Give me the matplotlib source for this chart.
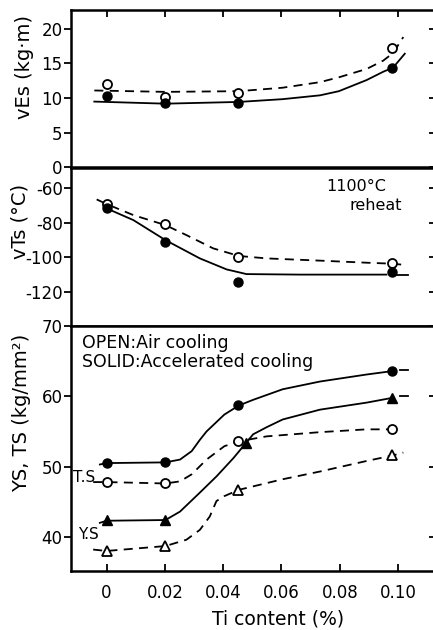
import matplotlib
matplotlib.use("Agg")
import matplotlib.pyplot as plt
from matplotlib.lines import TICKLEFT

# puntos medidos (contenido de Ti, %)
ti = [0, 0.02, 0.045, 0.098]
ti_ys_acc = [0, 0.02, 0.0477, 0.098]

# vEs (kg.m)
ves_air = [12.1, 10.1, 10.8, 17.2]
ves_acc = [10.3, 9.3, 9.3, 14.4]
ves_air_cx = [-0.0042, 0.0202, 0.0454, 0.0604, 0.0732, 0.0797, 0.0892, 0.0949, 0.0983, 0.1018]
ves_air_cy = [11.1, 10.9, 11.0, 11.5, 12.3, 13.0, 14.2, 15.4, 16.5, 18.8]
ves_acc_cx = [-0.0042, 0.0202, 0.0454, 0.0604, 0.0732, 0.0797, 0.0892, 0.0949, 0.0983, 0.1023]
ves_acc_cy = [9.5, 9.2, 9.45, 9.85, 10.4, 11.0, 12.6, 13.8, 14.4, 16.4]

# vTs (C)
vts_air = [-69.1, -80.7, -99.7, -103.5]
vts_acc = [-71.6, -91.0, -114.1, -108.7]
vts_air_cx = [-0.0034, 0.0, 0.0092, 0.0202, 0.0274, 0.0366, 0.0454, 0.0549, 0.0732, 0.0892, 0.0983, 0.1029]
vts_air_cy = [-66.4, -69.1, -75.5, -81.3, -87.1, -94.8, -99.2, -100.6, -101.9, -103.1, -103.7, -104.5]
vts_acc_cx = [0.0, 0.0092, 0.0202, 0.032, 0.0412, 0.048, 0.0663, 0.0960]
vts_acc_cy = [-71.6, -78.4, -90.0, -100.6, -107.0, -109.7, -110.0, -110.0]
vts_acc_ext_x = [0.0994, 0.1034]
vts_acc_ext_y = [-110.3, -110.3]

# YS, TS (kg/mm2)
ts_acc = [50.5, 50.6, 58.7, 63.6]
ts_air = [47.8, 47.6, 53.6, 55.3]
ys_acc = [42.4, 42.4, 53.3, 59.8]
ys_air = [38.0, 38.7, 46.7, 51.6]

ts_acc_cx = [-0.0023, 0.0, 0.0202, 0.0252, 0.0292, 0.032, 0.0343, 0.0404, 0.0454, 0.0503, 0.0604, 0.0732, 0.0892, 0.0983]
ts_acc_cy = [50.3, 50.5, 50.6, 51.0, 52.2, 53.8, 55.0, 57.4, 58.7, 59.5, 61.0, 62.1, 63.1, 63.6]
ts_acc_ext_x = [0.1006, 0.1034]
ts_acc_ext_y = [63.7, 63.7]

ts_air_cx = [-0.0046, 0.0, 0.0202, 0.0252, 0.0292, 0.0343, 0.0404, 0.0454, 0.0549, 0.0732, 0.0892, 0.0983, 0.1006]
ts_air_cy = [47.8, 47.8, 47.6, 47.9, 48.9, 51.0, 52.9, 53.6, 54.3, 54.9, 55.3, 55.3, 55.3]

ys_acc_cx = [-0.0023, 0.0, 0.0202, 0.0252, 0.032, 0.0377, 0.0435, 0.0477, 0.0503, 0.0549, 0.0604, 0.0732, 0.0892, 0.0983]
ys_acc_cy = [42.0, 42.3, 42.4, 43.6, 46.3, 48.6, 51.2, 53.3, 54.6, 55.6, 56.7, 58.1, 59.1, 59.8]
ys_acc_ext_x = [0.1006, 0.1034]
ys_acc_ext_y = [60.0, 60.0]

ys_air_cx = [-0.0046, 0.0, 0.0202, 0.0274, 0.032, 0.0354, 0.0377, 0.0404, 0.0454, 0.0604, 0.0732, 0.0892, 0.0983, 0.1018]
ys_air_cy = [38.2, 38.0, 38.7, 39.6, 41.0, 42.9, 45.1, 45.8, 46.7, 48.2, 49.3, 50.8, 51.6, 52.0]

xticks = [0, 0.02, 0.04, 0.06, 0.08, 0.10]
xticklabels = ['0', '0.02', '0.04', '0.06', '0.08', '0.10']

plt.rcParams['font.family'] = 'DejaVu Sans'
W, H = 433, 630
fig = plt.figure(figsize=(W / 100, H / 100), dpi=100)

X0, X1 = 71, 436  # el eje derecho queda justo fuera de la imagen

def caja(top, bottom):
    # posicion en pixeles -> fraccion de figura
    return [X0 / W, 1 - bottom / H, (X1 - X0) / W, (bottom - top) / H]

ax1 = fig.add_axes(caja(10, 167.5))
ax2 = fig.add_axes(caja(167.5, 326))
ax3 = fig.add_axes(caja(326, 571))

dash = (0, (5, 3.5))
lw = 1.3
ms = 6.5
xmin = -0.0122
xmax = xmin + (X1 - X0) / 58.3 * 0.02

for ax in (ax1, ax2, ax3):
    ax.set_xlim(xmin, xmax)
    ax.set_xticks(xticks)
    for s in ax.spines.values():
        s.set_linewidth(1.8)
    ax.spines['right'].set_visible(False)

def ejes_y(ax):
    # ticks del eje derecho a mano, apuntando hacia dentro desde el borde
    ax.tick_params(axis='y', which='major', left=True, right=True, length=5, width=1.3, labelsize=12, pad=1)
    for t in ax.yaxis.get_major_ticks():
        t.tick1line.set_marker(TICKLEFT)
        t.tick2line.set_marker(TICKLEFT)

# panel superior: vEs
ax1.plot(ves_air_cx, ves_air_cy, 'k', ls=dash, lw=lw)
ax1.plot(ves_acc_cx, ves_acc_cy, 'k-', lw=lw)
ax1.plot(ti, ves_air, 'o', mfc='white', mec='k', mew=1.3, ms=ms)
ax1.plot(ti, ves_acc, 'o', color='k', ms=ms)
ax1.set_ylim(0, 22.7)
ax1.set_yticks([0, 5, 10, 15, 20])
ax1.tick_params(axis='x', top=True, bottom=False, labelbottom=False, direction='in', length=5, width=1.3)

# panel medio: vTs
ax2.plot(vts_air_cx, vts_air_cy, 'k', ls=dash, lw=lw)
ax2.plot(vts_acc_cx, vts_acc_cy, 'k-', lw=lw)
ax2.plot(vts_acc_ext_x, vts_acc_ext_y, 'k-', lw=lw)
ax2.plot(ti, vts_air, 'o', mfc='white', mec='k', mew=1.3, ms=ms)
ax2.plot(ti, vts_acc, 'o', color='k', ms=ms)
ax2.set_ylim(-139.8, -47.9)
ax2.set_yticks([-60, -80, -100, -120])
ax2.set_yticklabels(['-60', '-80', '-100', '-120'])
ax2.tick_params(axis='x', top=False, bottom=False, labelbottom=False)
ax2.text(0.0855, -59.2, '1100°C', ha='center', va='center', fontsize=11.5)
ax2.text(0.0925, -70.0, 'reheat', ha='center', va='center', fontsize=11.5)

# panel inferior: YS, TS
ax3.plot(ts_acc_cx, ts_acc_cy, 'k-', lw=lw)
ax3.plot(ts_acc_ext_x, ts_acc_ext_y, 'k-', lw=lw)
ax3.plot(ts_air_cx, ts_air_cy, 'k', ls=dash, lw=lw)
ax3.plot(ys_acc_cx, ys_acc_cy, 'k-', lw=lw)
ax3.plot(ys_acc_ext_x, ys_acc_ext_y, 'k-', lw=lw)
ax3.plot(ys_air_cx, ys_air_cy, 'k', ls=dash, lw=lw)
ax3.plot(ti, ts_acc, 'o', color='k', ms=ms)
ax3.plot(ti, ts_air, 'o', mfc='white', mec='k', mew=1.3, ms=ms)
ax3.plot(ti_ys_acc, ys_acc, '^', color='k', ms=ms + 0.5)
ax3.plot(ti, ys_air, '^', mfc='white', mec='k', mew=1.3, ms=ms + 0.5)
ax3.set_ylim(35.15, 70)
ax3.set_yticks([40, 50, 60, 70])
ax3.set_xticklabels(xticklabels)
ax3.tick_params(axis='x', top=False, bottom=True, direction='in', length=5, width=1.3,
                labelsize=12, pad=9)
ax3.text(-0.0116, 48.5, 'T.S', ha='left', va='center', fontsize=11)
ax3.text(-0.0097, 40.3, 'Y.S', ha='left', va='center', fontsize=11)
ax3.text(-0.0085, 67.6, 'OPEN:Air cooling', ha='left', va='center', fontsize=12.5)
ax3.text(-0.0085, 64.9, 'SOLID:Accelerated cooling', ha='left', va='center', fontsize=12.5)

for ax in (ax1, ax2, ax3):
    ejes_y(ax)

fig.text(278 / W, 1 - 619 / H, 'Ti content (%)', ha='center', va='center', fontsize=13.5)
fig.text(24 / W, 1 - 67 / H, 'vEs (kg·m)', rotation=90, ha='center', va='center', fontsize=14)
fig.text(20 / W, 1 - 221 / H, 'vTs (°C)', rotation=90, ha='center', va='center', fontsize=14)
fig.text(22 / W, 1 - 413 / H, 'YS, TS (kg/mm²)', rotation=90, ha='center', va='center', fontsize=14)

fig.savefig('out.png', dpi=100)
